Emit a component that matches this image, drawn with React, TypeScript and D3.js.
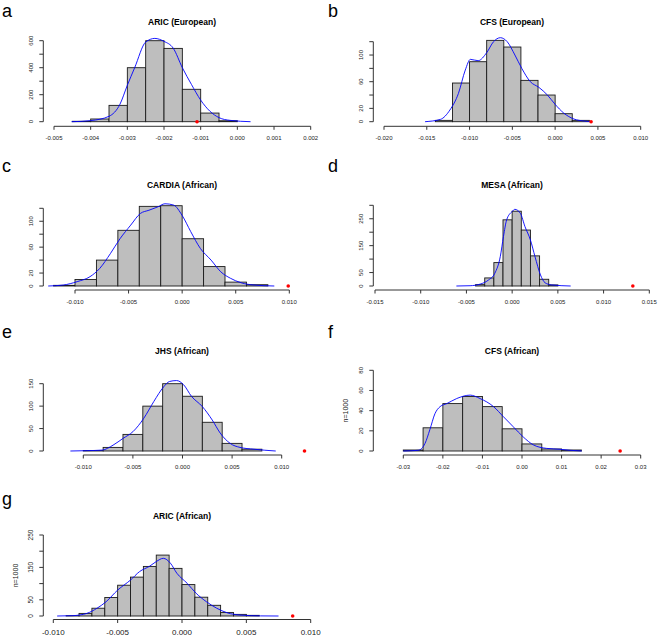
import React from 'react';
import * as d3 from 'd3';

// histogram bin edges / counts, density curve points and observed value per panel
const edgesA = [-0.0045, -0.004, -0.0035, -0.003, -0.0025, -0.002, -0.0015, -0.001, -0.0005, 0];
const countsA = [3, 20, 121, 400, 600, 543, 240, 64, 7];
const densXA = [-0.00452, -0.004, -0.0035, -0.0032, -0.003, -0.0028, -0.0025, -0.00225, -0.002, -0.00175, -0.0015, -0.00125, -0.001, -0.00075, -0.0005, -0.0002, 0.00036];
const densYA = [0, 8, 40, 130, 270, 400, 590, 617, 595, 545, 400, 275, 160, 78, 30, 10, 0];
const obsA = -0.0011;

const edgesB = [-0.014, -0.012, -0.01, -0.008, -0.006, -0.004, -0.002, 0, 0.002, 0.004];
const countsB = [2, 58, 90, 122, 112, 62, 40, 12, 2];
const densXB = [-0.0152, -0.0134, -0.0123, -0.0113, -0.0105, -0.0099, -0.009, -0.008, -0.0072, -0.0064, -0.0056, -0.0047, -0.0039, -0.0029, -0.0019, -0.0009, 0, 0.001, 0.0022, 0.0034, 0.0042];
const densYB = [0, 3.5, 17.5, 42.5, 77.5, 93.5, 91.5, 103.5, 120, 126, 120, 100, 80, 60, 51.5, 40, 26, 13, 4, 1, 0];
const obsB = 0.0042;

const edgesC = [-0.012, -0.01, -0.008, -0.006, -0.004, -0.002, 0, 0.002, 0.004, 0.006, 0.008];
const countsC = [1, 10, 40, 86, 123, 124, 73, 30, 6, 2];
const densXC = [-0.0125, -0.0111, -0.0098, -0.0086, -0.0077, -0.0067, -0.0058, -0.0048, -0.0039, -0.0031, -0.0023, -0.0016, -0.0008, 0, 0.0008, 0.0017, 0.0027, 0.0036, 0.0045, 0.0055, 0.0067, 0.0086];
const densYC = [0, 1.5, 6.7, 14.4, 27, 50, 73, 94, 112, 117, 122, 127, 125, 109, 84, 58, 40, 22, 12, 5, 1.5, 0];
const obsC = 0.0099;

const edgesD = [-0.004, -0.003, -0.002, -0.001, 0, 0.001, 0.002, 0.003, 0.004, 0.005];
const countsD = [5, 30, 87, 246, 278, 208, 112, 25, 4];
const densXD = [-0.0061, -0.0046, -0.0035, -0.0026, -0.0019, -0.0013, -0.00095, -0.0006, 0, 0.0003, 0.0009, 0.0014, 0.002, 0.0025, 0.0031, 0.0036, 0.0043, 0.0064];
const densYD = [0, 1, 7, 22, 47, 109, 184, 246, 277, 285, 270, 221, 171, 109, 41, 12, 4, 0];
const obsD = 0.0132;

const edgesE = [-0.01, -0.008, -0.006, -0.004, -0.002, 0, 0.002, 0.004, 0.006, 0.008];
const countsE = [1, 8, 37, 100, 150, 122, 64, 17, 4];
const densXE = [-0.0113, -0.0097, -0.0081, -0.007, -0.006, -0.005, -0.0039, -0.0029, -0.0019, -0.0013, -0.0006, 0.0001, 0.0009, 0.002, 0.003, 0.0038, 0.0048, 0.0058, 0.0072, 0.0094];
const densYE = [0, 0.7, 2, 13, 28, 43, 73, 110, 143, 155, 157, 148, 122, 99, 69, 40, 17, 8, 4, 0];
const obsE = 0.0123;

const edgesF = [-0.03, -0.025, -0.02, -0.015, -0.01, -0.005, 0, 0.005, 0.01, 0.015];
const countsF = [1, 23, 47, 54, 44, 22, 7, 2, 1];
const densXF = [-0.03, -0.0262, -0.0245, -0.0233, -0.022, -0.0207, -0.019, -0.0165, -0.0131, -0.0106, -0.0072, -0.0047, -0.0022, 0.0003, 0.0029, 0.0062, 0.0096, 0.0121, 0.0151];
const densYF = [0, 0.7, 7.6, 21, 37, 44, 47, 52, 55.4, 52, 44, 34, 24, 14, 6, 2.6, 1.7, 0.7, 0];
const obsF = 0.0248;

const edgesG = [-0.009, -0.008, -0.007, -0.006, -0.005, -0.004, -0.003, -0.002, -0.001, 0, 0.001, 0.002, 0.003, 0.004, 0.005, 0.006];
const countsG = [1, 8, 24, 57, 95, 120, 153, 188, 147, 97, 58, 33, 11, 5, 2];
const densXG = [-0.0097, -0.0085, -0.0074, -0.0066, -0.0059, -0.005, -0.004, -0.0033, -0.0025, -0.002, -0.00145, -0.0009, -0.0004, 0.0004, 0.0011, 0.0019, 0.0027, 0.0035, 0.0045, 0.0061, 0.0075];
const densYG = [0, 1, 8, 24, 44, 80, 111, 137, 154, 168, 178, 163, 132, 101, 70, 44, 24, 10, 3, 0.3, 0];
const obsG = 0.0086;

// axis ticks
const xTicksA = [-0.005, -0.004, -0.003, -0.002, -0.001, 0, 0.001, 0.002];
const xLabelsA = ['-0.005', '-0.004', '-0.003', '-0.002', '-0.001', '0.000', '0.001', '0.002'];
const xTicksB = [-0.02, -0.015, -0.01, -0.005, 0, 0.005, 0.01];
const xLabelsB = ['-0.020', '-0.015', '-0.010', '-0.005', '0.000', '0.005', '0.010'];
const xTicksC = [-0.01, -0.005, 0, 0.005, 0.01];
const xLabelsC = ['-0.010', '-0.005', '0.000', '0.005', '0.010'];
const xTicksD = [-0.015, -0.01, -0.005, 0, 0.005, 0.01, 0.015];
const xLabelsD = ['-0.015', '-0.010', '-0.005', '0.000', '0.005', '0.010', '0.015'];
const xTicksF = [-0.03, -0.02, -0.01, 0, 0.01, 0.02, 0.03];
const xLabelsF = ['-0.03', '-0.02', '-0.01', '0.00', '0.01', '0.02', '0.03'];

const yTicksA = [0, 100, 200, 300, 400, 500, 600];
const yLabelsA = [0, 200, 400, 600];
const yTicksB = [0, 20, 40, 60, 80, 100, 120];
const yLabelsB = [0, 20, 60, 100];
const yTicksD = [0, 50, 100, 150, 200, 250, 300];
const yLabelsD = [0, 50, 150, 250];
const yTicksE = [0, 50, 100, 150];
const yTicksF = [0, 20, 40, 60, 80];
const yTicksG = [0, 50, 100, 150, 200, 250];
const yLabelsG = [0, 50, 150, 250];

const panels = [
  { letter: 'a', title: 'ARIC (European)', ox: 0, edges: edgesA, counts: countsA, dx: densXA, dy: densYA, obs: obsA,
    xTicks: xTicksA, xLabels: xLabelsA, yTicks: yTicksA, yLabels: yLabelsA, px: [54, 310.7], base: 121.7, topPx: 40.7,
    axisY: 126.3, titleY: 24.5, letterY: 16.5, font: 6 },
  { letter: 'b', title: 'CFS (European)', ox: 330, edges: edgesB, counts: countsB, dx: densXB, dy: densYB, obs: obsB,
    xTicks: xTicksB, xLabels: xLabelsB, yTicks: yTicksB, yLabels: yLabelsB, px: [384, 640.7], base: 121.7, topPx: 41.7,
    axisY: 126.3, titleY: 24.5, letterY: 16.5, font: 6 },
  { letter: 'c', title: 'CARDIA (African)', ox: 0, edges: edgesC, counts: countsC, dx: densXC, dy: densYC, obs: obsC,
    xTicks: xTicksC, xLabels: xLabelsC, yTicks: yTicksB, yLabels: yLabelsB, px: [75, 289.3], base: 286, topPx: 208.3,
    axisY: 290, titleY: 188, letterY: 171.5, font: 6 },
  { letter: 'd', title: 'MESA (African)', ox: 330, edges: edgesD, counts: countsD, dx: densXD, dy: densYD, obs: obsD,
    xTicks: xTicksD, xLabels: xLabelsD, yTicks: yTicksD, yLabels: yLabelsD, px: [375, 649.3], base: 286, topPx: 205.3,
    axisY: 290, titleY: 188, letterY: 171.5, font: 6 },
  { letter: 'e', title: 'JHS (African)', ox: 0, edges: edgesE, counts: countsE, dx: densXE, dy: densYE, obs: obsE,
    xTicks: xTicksC, xLabels: xLabelsC, yTicks: yTicksE, yLabels: yTicksE, px: [83.3, 281.7], base: 451, topPx: 383.7,
    axisY: 455, titleY: 353.5, letterY: 338, font: 6 },
  { letter: 'f', title: 'CFS (African)', ox: 330, edges: edgesF, counts: countsF, dx: densXF, dy: densYF, obs: obsF,
    xTicks: xTicksF, xLabels: xLabelsF, yTicks: yTicksF, yLabels: yTicksF, px: [403.3, 640.7], base: 451, topPx: 370.3,
    axisY: 455, titleY: 353.5, letterY: 338, font: 6, yTitle: 'n=1000' },
  { letter: 'g', title: 'ARIC (African)', ox: 0, edges: edgesG, counts: countsG, dx: densXG, dy: densYG, obs: obsG,
    xTicks: xTicksC, xLabels: xLabelsC, yTicks: yTicksG, yLabels: yLabelsG, px: [53.3, 310.7], base: 616, topPx: 535,
    axisY: 619.5, titleY: 519, letterY: 505, font: 8, yTitle: 'n=1000' },
];

const FONT = "'Liberation Sans', Arial, Helvetica, sans-serif";

const Panel = ({ p }) => {
  const x = d3.scaleLinear().domain([p.xTicks[0], p.xTicks[p.xTicks.length - 1]]).range(p.px);
  const yMax = p.yTicks[p.yTicks.length - 1];
  const y = d3.scaleLinear().domain([0, yMax]).range([p.base, p.topPx]);
  const line = d3.line().x((d) => x(d[0])).y((d) => y(d[1])).curve(d3.curveMonotoneX);
  const pts = p.dx.map((v, i) => [v, p.dy[i]]);
  const yAxisX = p.ox + 43.3;
  const yLabFont = p.font === 8 ? 6.5 : 6;
  return (
    <g>
      <text x={p.ox + (p.ox ? -2 : 2)} y={p.letterY} fontSize={18} fontFamily={FONT}>{p.letter}</text>
      <text x={p.ox + 182} y={p.titleY} fontSize={8.5} fontWeight="bold" textAnchor="middle" fontFamily={FONT}>{p.title}</text>
      {p.counts.map((c, i) => (
        <rect key={i} x={x(p.edges[i])} y={y(c)} width={x(p.edges[i + 1]) - x(p.edges[i])} height={p.base - y(c)}
          fill="#bebebe" stroke="#1a1a1a" strokeWidth={0.9} />
      ))}
      <path d={line(pts)} fill="none" stroke="#0000ff" strokeWidth={0.9} />
      <circle cx={x(p.obs)} cy={p.base} r={1.8} fill="#ff0000" />
      {/* x axis */}
      <line x1={x(p.xTicks[0])} x2={x(p.xTicks[p.xTicks.length - 1])} y1={p.axisY} y2={p.axisY} stroke="#333" strokeWidth={1} />
      {p.xTicks.map((t, i) => (
        <g key={i}>
          <line x1={x(t)} x2={x(t)} y1={p.axisY} y2={p.axisY + 3.5} stroke="#333" strokeWidth={1} />
          <text x={x(t)} y={p.axisY + (p.font === 8 ? 15.5 : 14)} fontSize={p.font} textAnchor="middle" fill="#222" fontFamily={FONT}>{p.xLabels[i]}</text>
        </g>
      ))}
      {/* y axis */}
      <line x1={yAxisX} x2={yAxisX} y1={y(0)} y2={y(yMax)} stroke="#333" strokeWidth={1} />
      {p.yTicks.map((t, i) => (
        <line key={i} x1={yAxisX - 4} x2={yAxisX} y1={y(t)} y2={y(t)} stroke="#333" strokeWidth={1} />
      ))}
      {p.yLabels.map((t, i) => (
        <text key={i} transform={`translate(${p.ox + 33},${y(t)}) rotate(-90)`} fontSize={yLabFont} textAnchor="middle" fill="#222" fontFamily={FONT}>{t}</text>
      ))}
      {p.yTitle && (
        <text transform={`translate(${p.ox + 17.5},${(p.base + p.topPx) / 2}) rotate(-90)`} fontSize={7} textAnchor="middle" fill="#222" fontFamily={FONT}>{p.yTitle}</text>
      )}
    </g>
  );
};

export default function App() {
  return (
    <svg width={660} height={636} style={{ position: 'absolute', left: 0, top: 0, background: '#fff' }}>
      <rect width={660} height={636} fill="#fff" />
      {panels.map((p) => <Panel key={p.letter} p={p} />)}
    </svg>
  );
}
